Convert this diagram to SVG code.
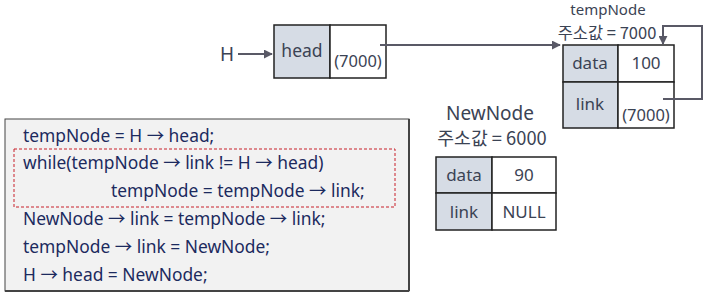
<svg xmlns="http://www.w3.org/2000/svg" width="707" height="294" viewBox="0 0 707 294">
<style>
.t{font-family:"Noto Sans","Noto Sans CJK KR",sans-serif;fill:#3b4354}
.k{font-family:"Noto Sans CJK KR","Noto Sans",sans-serif;fill:#3b4354}
.code{font-family:"Noto Sans","Noto Sans CJK KR",sans-serif;fill:#1c2a5e;font-size:17.4px}
.cellg{fill:#d6dce5;stroke:#222;stroke-width:1.5}
.cellw{fill:#fff;stroke:#222;stroke-width:1.5}
.conn{fill:none;stroke:#595966;stroke-width:2}
</style>
<defs>
<marker id="ah" viewBox="0 0 10 10" refX="9" refY="5" markerWidth="4.5" markerHeight="4.5" orient="auto" markerUnits="strokeWidth">
<path d="M0,0 L10,5 L0,10 z" fill="#595966"/>
</marker>
</defs>
<g id="H">
<text class="t" x="227" y="61" font-size="19" text-anchor="middle">H</text>
</g>
<g id="head">
<rect class="cellg" x="274" y="25" width="56" height="53"/>
<rect class="cellw" x="330" y="25" width="56" height="53"/>
<text class="t" x="302" y="57" font-size="17.5" text-anchor="middle">head</text>
<text class="t" x="358" y="67" font-size="16.5" text-anchor="middle">(7000)</text>
</g>
<g id="tempNode">
<text class="t" x="608" y="15" font-size="15" text-anchor="middle">tempNode</text>
<text class="k" x="607" y="39" font-size="16.5" text-anchor="middle">주소값 = 7000</text>
<rect class="cellg" x="563" y="45" width="55" height="37"/>
<rect class="cellw" x="618" y="45" width="56" height="37"/>
<rect class="cellg" x="563" y="82" width="55" height="46"/>
<rect class="cellw" x="618" y="82" width="56" height="46"/>
<text class="t" x="590" y="69" font-size="17" text-anchor="middle">data</text>
<text class="t" x="646" y="69" font-size="17" text-anchor="middle">100</text>
<text class="t" x="590" y="110" font-size="17" text-anchor="middle">link</text>
<text class="t" x="646" y="121" font-size="16.5" text-anchor="middle">(7000)</text>
</g>
<g id="NewNode">
<text class="t" x="490" y="120" font-size="19" text-anchor="middle">NewNode</text>
<text class="k" x="492" y="145" font-size="18.3" text-anchor="middle">주소값 = 6000</text>
<rect class="cellg" x="436" y="157" width="56" height="36"/>
<rect class="cellw" x="492" y="157" width="64" height="36"/>
<rect class="cellg" x="436" y="193" width="56" height="37"/>
<rect class="cellw" x="492" y="193" width="64" height="37"/>
<text class="t" x="464" y="181" font-size="17" text-anchor="middle">data</text>
<text class="t" x="524" y="181" font-size="17" text-anchor="middle">90</text>
<text class="t" x="464" y="218" font-size="17" text-anchor="middle">link</text>
<text class="t" x="524" y="218" font-size="17" text-anchor="middle">NULL</text>
</g>
<g id="connectors">
<line class="conn" x1="238" y1="54" x2="272" y2="54" marker-end="url(#ah)"/>
<line class="conn" x1="380" y1="45" x2="560" y2="45" marker-end="url(#ah)"/>
<polyline class="conn" points="663,99 702,99 702,26 663,26 663,44" marker-end="url(#ah)"/>
</g>
<g id="code">
<rect x="5" y="119" width="404" height="172" fill="#f2f2f2" stroke="#444" stroke-width="1"/>
<line x1="409" y1="119" x2="409" y2="291" stroke="#444" stroke-width="2"/>
<line x1="5" y1="291" x2="409" y2="291" stroke="#444" stroke-width="2"/>
<rect x="14" y="149" width="381" height="58" fill="none" stroke="#c8202a" stroke-width="1" stroke-dasharray="3,2"/>
<text class="code" x="23" y="142">tempNode = H → head;</text>
<text class="code" x="23" y="169">while(tempNode → link != H → head)</text>
<text class="code" x="111" y="197">tempNode = tempNode → link;</text>
<text class="code" x="23" y="225">NewNode → link = tempNode → link;</text>
<text class="code" x="23" y="253">tempNode → link = NewNode;</text>
<text class="code" x="23" y="281">H → head = NewNode;</text>
</g>
</svg>
